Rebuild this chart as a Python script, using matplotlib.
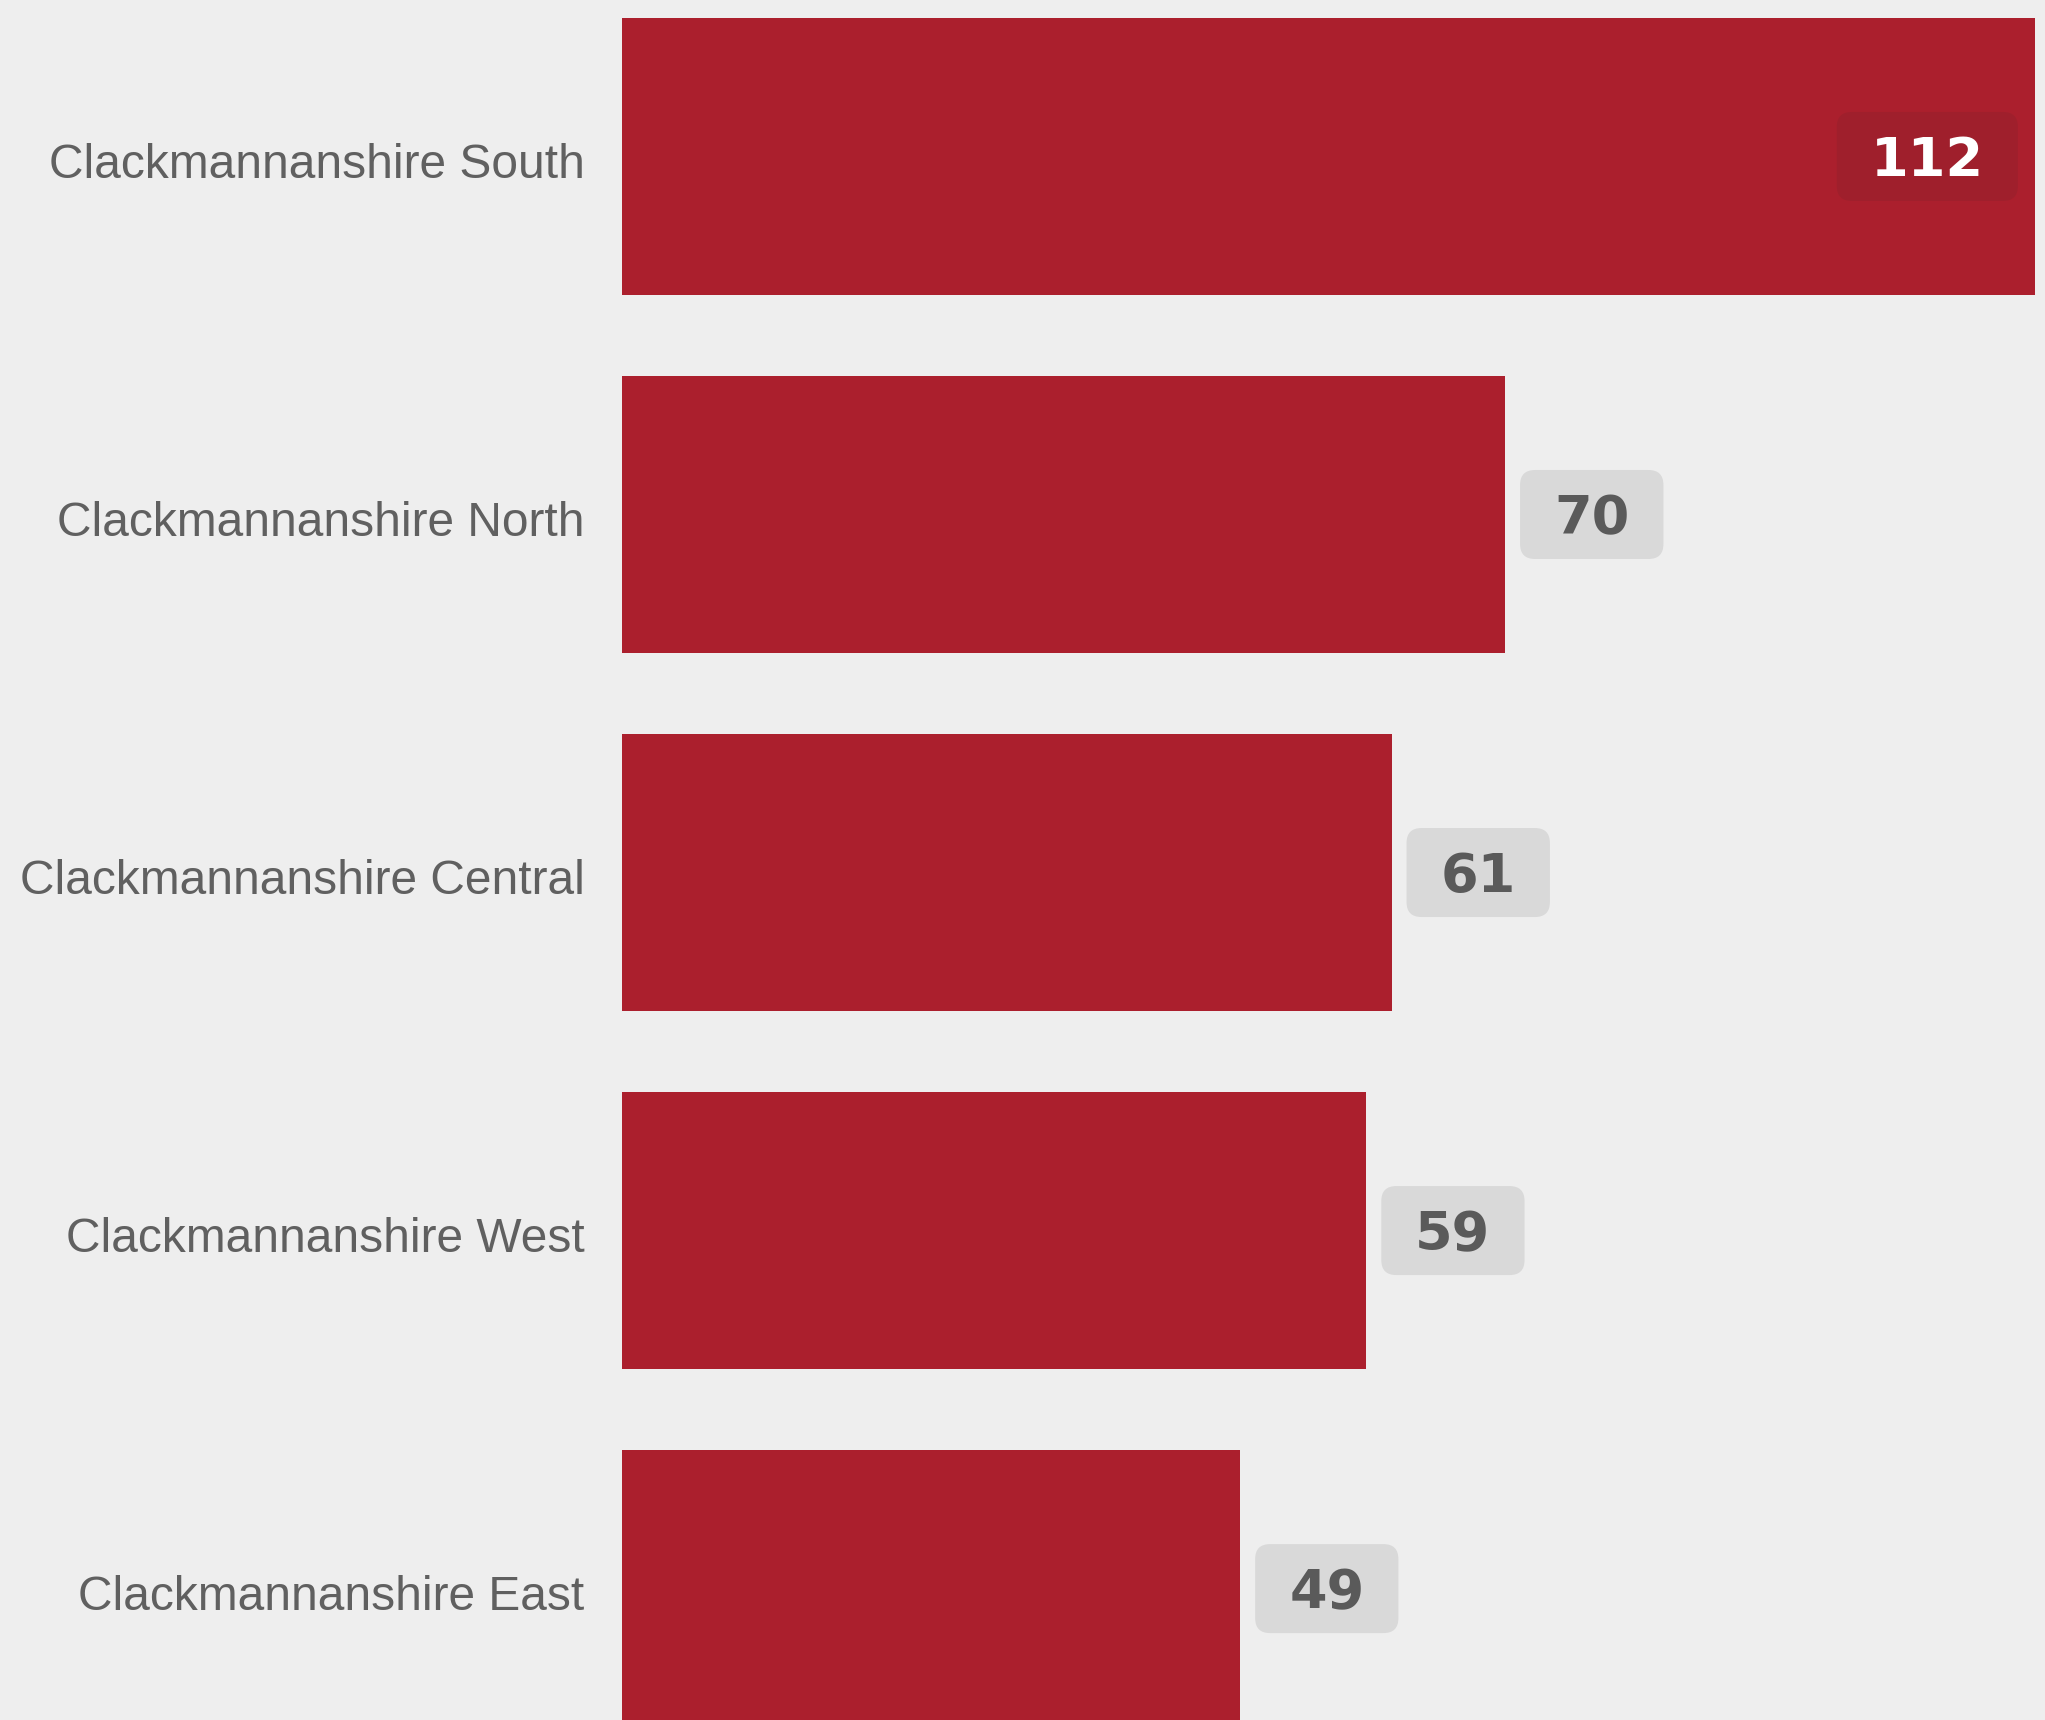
import matplotlib.pyplot as plt
from matplotlib.patches import FancyBboxPatch
from matplotlib.transforms import IdentityTransform, offset_copy, ScaledTranslation

wards = ['Clackmannanshire South', 'Clackmannanshire North', 'Clackmannanshire Central',
         'Clackmannanshire West', 'Clackmannanshire East']
counts = [112, 70, 61, 59, 49]

bg = '#eeeeee'
bar_col = '#ab1f2d'

fig = plt.figure(figsize=(20.45, 17.2), dpi=100, facecolor=bg)
ax = fig.add_axes([622 / 2045, 0, 1423 / 2045, 1])
ax.set_facecolor(bg)

ypos = list(range(len(wards)))
ax.barh(ypos, counts, height=0.772, color=bar_col, zorder=1)
ax.set_xlim(0, 112.8)
ax.set_ylim(4.367, -0.437)

ax.set_yticks(ypos)
ax.set_yticklabels(wards, fontsize=34.5, color='#606060', family='Liberation Sans')
ax.tick_params(axis='y', length=0, pad=27)
# nudge the category labels down a little
for lbl in ax.get_yticklabels():
    lbl.set_transform(lbl.get_transform() + ScaledTranslation(0, -4 / 100, fig.dpi_scale_trans))
ax.set_xticks([])
for s in ax.spines.values():
    s.set_visible(False)

renderer = fig.canvas.get_renderer()
fs = 39
digit_h = 0.729 * fs * 100 / 72
padx, boxh = 34, 89
for i, v in enumerate(counts):
    inside = v > 100
    if inside:
        tr = offset_copy(ax.transData, fig, x=-17 - padx, y=-digit_h / 2, units='dots')
        t = ax.text(v, i, str(v), ha='right', va='baseline', transform=tr,
                    fontsize=fs, fontweight='bold', color='white', zorder=3)
        face = '#9f1f2c'
    else:
        tr = offset_copy(ax.transData, fig, x=15 + padx, y=-digit_h / 2, units='dots')
        t = ax.text(v, i, str(v), ha='left', va='baseline', transform=tr,
                    fontsize=fs, fontweight='bold', color='#5a5a5a', zorder=3)
        face = '#d9d9d9'
    bb = t.get_window_extent(renderer)
    cy = ax.transData.transform((v, i))[1]
    box = FancyBboxPatch((bb.x0 - padx, cy - boxh / 2), bb.width + 2 * padx, boxh,
                         boxstyle='round,pad=0,rounding_size=15',
                         facecolor=face, edgecolor='none',
                         transform=IdentityTransform(), zorder=2)
    ax.add_patch(box)

fig.savefig('out.png', dpi=100, facecolor=bg)
